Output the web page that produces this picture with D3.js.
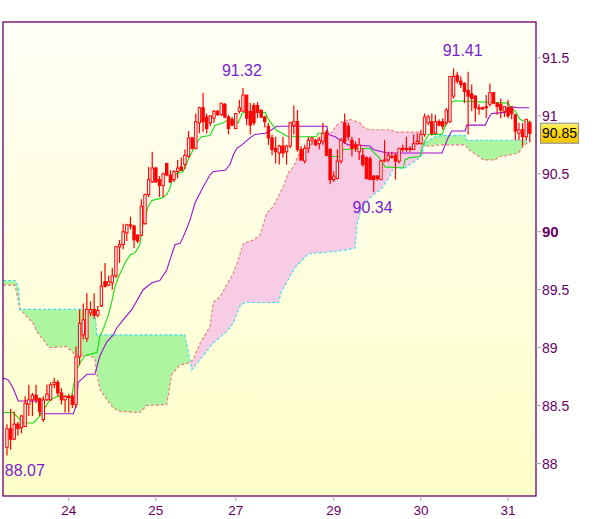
<!DOCTYPE html>
<html><head><meta charset="utf-8">
<script src="https://cdn.jsdelivr.net/npm/d3@7"></script>
<style>body{margin:0;background:#fff}svg{display:block}</style>
</head><body><svg id="c" width="600" height="519"></svg>
<script>
// hourly candles (index 0..144)
const opens=[88.14,88.30,88.21,88.34,88.31,88.32,88.51,88.55,88.59,88.56,88.38,88.55,88.55,88.68,88.70,88.61,88.55,88.58,88.58,88.51,
88.92,89.11,89.08,89.30,89.33,89.28,89.36,89.57,89.54,89.56,89.62,89.87,89.89,89.99,90.06,90.05,89.97,89.97,90.07,90.32,
90.43,90.55,90.45,90.40,90.59,90.49,90.45,90.52,90.56,90.58,90.65,90.81,90.72,90.94,91.07,90.99,90.94,90.98,91.04,91.01,
91.10,90.99,90.97,90.89,91.04,91.04,91.18,91.04,91.09,91.09,91.05,90.99,90.91,90.81,90.72,90.68,90.74,90.69,90.74,90.92,
90.95,90.71,90.61,90.72,90.79,90.79,90.76,90.78,90.86,90.71,90.45,90.46,90.61,90.94,90.91,90.79,90.75,90.69,90.66,90.64,
90.63,90.48,90.48,90.45,90.61,90.62,90.65,90.66,90.61,90.72,90.71,90.72,90.71,90.76,90.76,90.84,90.94,90.95,90.85,90.95,
90.95,90.94,90.95,91.17,91.35,91.30,91.28,91.22,91.19,91.17,91.07,91.06,91.08,91.10,91.20,91.11,91.10,91.04,91.07,91.07,
91.01,90.85,90.88,90.82,90.94];
const highs=[88.34,88.47,88.45,88.36,88.42,88.58,88.68,88.61,88.68,88.57,88.58,88.68,88.70,88.74,88.72,88.65,88.59,88.60,88.60,89.01,
89.33,89.38,89.47,89.40,89.47,89.36,89.66,89.73,89.62,89.69,89.88,89.93,90.07,90.07,90.13,90.06,89.98,90.28,90.33,90.56,
90.69,90.56,90.48,90.51,90.59,90.53,90.53,90.62,90.64,90.71,90.87,90.82,91.02,91.08,91.20,91.02,91.00,91.05,91.05,91.11,
91.11,91.01,90.99,91.02,91.14,91.24,91.18,91.11,91.11,91.12,91.05,91.00,90.94,90.84,90.82,90.75,90.82,90.75,90.95,91.09,
91.05,90.74,90.75,90.82,90.82,90.80,90.82,90.94,90.88,90.72,90.52,90.71,90.81,91.02,90.94,90.82,90.78,90.81,90.72,90.65,
90.65,90.49,90.49,90.62,90.79,90.69,90.69,90.68,90.72,90.75,90.82,90.74,90.84,90.85,90.88,91.02,91.01,91.02,91.01,90.97,
90.98,91.07,91.34,91.41,91.38,91.34,91.29,91.38,91.27,91.18,91.10,91.08,91.18,91.28,91.20,91.12,91.15,91.08,91.14,91.08,
91.01,90.94,90.94,90.97,90.96];
const lows=[88.07,88.12,88.20,88.24,88.26,88.32,88.41,88.41,88.52,88.41,88.36,88.54,88.54,88.65,88.58,88.51,88.44,88.44,88.48,88.48,
88.85,89.07,89.05,89.27,89.25,89.26,89.35,89.52,89.53,89.50,89.60,89.73,89.85,89.92,90.02,89.86,89.90,89.96,90.06,90.30,
90.42,90.42,90.30,90.30,90.48,90.42,90.43,90.46,90.53,90.54,90.64,90.71,90.71,90.85,90.86,90.85,90.91,90.94,91.00,91.00,
90.98,90.84,90.91,90.89,91.02,91.04,90.92,90.84,90.92,90.98,90.98,90.90,90.75,90.66,90.59,90.58,90.64,90.58,90.72,90.84,
90.69,90.61,90.59,90.68,90.75,90.74,90.71,90.75,90.65,90.41,90.43,90.45,90.59,90.76,90.79,90.65,90.69,90.62,90.56,90.45,
90.45,90.34,90.44,90.45,90.60,90.60,90.63,90.45,90.59,90.69,90.69,90.69,90.71,90.75,90.75,90.82,90.92,90.83,90.84,90.91,
90.88,90.92,90.94,91.15,91.28,91.24,91.11,90.84,91.04,90.95,91.01,91.05,90.98,91.08,91.10,91.01,90.98,90.99,90.98,90.97,
90.79,90.79,90.74,90.79,90.77];
const closes=[88.30,88.21,88.34,88.30,88.41,88.52,88.55,88.59,88.55,88.45,88.55,88.60,88.68,88.70,88.61,88.55,88.58,88.57,88.51,88.92,
89.21,89.24,89.33,89.33,89.28,89.32,89.53,89.53,89.57,89.62,89.87,89.89,90.00,90.06,90.05,89.93,89.92,90.22,90.32,90.45,
90.55,90.43,90.40,90.50,90.49,90.43,90.52,90.55,90.53,90.66,90.81,90.72,90.95,91.07,90.95,90.89,91.00,91.04,91.01,91.11,
90.99,90.89,90.92,91.02,91.07,91.18,90.98,90.92,90.94,91.03,90.99,90.95,90.81,90.71,90.69,90.74,90.68,90.74,90.94,90.95,
90.71,90.62,90.72,90.79,90.81,90.75,90.79,90.85,90.66,90.45,90.48,90.61,90.79,90.78,90.82,90.72,90.72,90.75,90.58,90.46,
90.45,90.45,90.46,90.61,90.62,90.66,90.65,90.61,90.72,90.71,90.72,90.71,90.76,90.78,90.84,90.99,90.99,90.85,90.95,90.92,
90.91,91.05,91.34,91.34,91.30,91.27,91.21,91.17,91.15,91.07,91.06,91.07,91.07,91.20,91.11,91.08,91.05,91.08,91.00,91.02,
90.87,90.88,90.82,90.97,90.85];

// indicator lines read as [bar index, price] breakpoints
const tenkan=[[-1.1,88.44],[1.7,88.44],[4.5,88.35],[7.3,88.35],[9.1,88.41],[11.8,88.55],[14.1,88.58],[17.8,88.58],[19.2,88.81],[20.1,88.87],
[21.5,88.93],[24.8,88.96],[25.6,89.10],[26.5,89.16],[27.8,89.27],[28.8,89.39],[29.8,89.53],[30.7,89.61],[31.6,89.67],[32.5,89.73],
[33.9,89.80],[35.3,89.82],[36.6,89.89],[37.1,90.02],[37.8,90.10],[38.9,90.22],[39.9,90.27],[42.6,90.29],[44,90.32],[44.9,90.38],
[45.5,90.45],[46.7,90.50],[48.5,90.52],[49.9,90.62],[51.3,90.71],[52.7,90.79],[53.6,90.82],[55.9,90.83],[57.3,90.92],[59.6,90.94],
[61.4,90.98],[62.3,90.95],[63.7,90.94],[64.7,91.02],[65.3,91.03],[71.1,91.03],[72,90.97],[73.4,90.91],[74,90.88],[77.5,90.82],
[85.3,90.82],[85.7,90.85],[87.1,90.85],[88.1,90.74],[88.5,90.65],[91.7,90.65],[92.6,90.71],[99.9,90.72],[102.8,90.63],[104.1,90.56],
[109.2,90.55],[109.6,90.62],[111,90.64],[113.8,90.65],[114.2,90.72],[115.2,90.79],[116.1,90.84],[119.8,90.84],[120.7,90.91],[121.1,90.98],
[121.8,91.07],[122.5,91.12],[123.4,91.13],[138.1,91.11],[138.6,91.08],[140,91.04],[141.3,90.97],[142.7,90.95],[143.8,90.95]];
const kijun=[[-1.1,88.74],[0.4,88.72],[1.7,88.65],[3.1,88.54],[8.6,88.54],[9.1,88.43],[18.3,88.43],[19.2,88.52],[19.6,88.70],[22,88.77],
[24.2,88.77],[25.6,88.93],[27.5,89.05],[29.3,89.11],[30.2,89.17],[32,89.24],[34.4,89.33],[37.5,89.50],[39.9,89.56],[42.1,89.58],
[44,89.67],[44.9,89.76],[46.3,89.89],[47.7,89.90],[49,89.99],[50.4,90.10],[51.8,90.25],[54.1,90.39],[55.9,90.49],[56.8,90.52],
[60.1,90.53],[61.4,90.58],[62.3,90.66],[63.3,90.72],[64.7,90.75],[66.9,90.81],[68.3,90.84],[71.1,90.85],[72.9,90.88],[74.3,90.91],
[88.1,90.91],[88.5,90.84],[90.4,90.82],[92.2,90.78],[94,90.75],[100,90.74],[100.9,90.71],[104.6,90.68],[119.8,90.68],[120.7,90.75],
[121.6,90.82],[122.5,90.87],[126.2,90.87],[126.6,90.92],[131.7,90.92],[132.6,90.98],[133.5,91.02],[137.2,91.03],[138.6,91.08],[140.9,91.07],
[143.8,91.07]];
const spanA=[[-1.1,89.58],[2.2,89.58],[3.1,89.53],[3.6,89.33],[24.2,89.33],[24.7,89.11],[49,89.11],[50.9,88.81],[53.2,88.90],[56.8,89.04],
[60.5,89.14],[62.3,89.21],[64.2,89.36],[65.6,89.39],[74.7,89.39],[75.7,89.49],[79.3,89.69],[83,89.81],[90.4,89.83],[94.5,89.85],
[95.9,89.86],[96.3,90.05],[97.2,90.16],[98.6,90.25],[100.9,90.32],[102.8,90.36],[105.5,90.48],[106.4,90.55],[109.6,90.55],[112.9,90.62],
[114.2,90.66],[115.2,90.77],[117.9,90.82],[119.8,90.83],[126.2,90.83],[126.6,90.79],[142.7,90.79],[143.6,90.76]];
const spanB=[[-1.1,89.54],[2.2,89.54],[3.6,89.33],[7.2,89.21],[8.2,89.14],[10.9,89.03],[11.8,89.00],[16.4,89.01],[17.8,88.97],[18.7,88.94],
[22.9,88.93],[24.2,88.90],[24.7,88.78],[25.6,88.64],[27.5,88.55],[29.3,88.48],[31.1,88.45],[36.6,88.44],[38.5,88.50],[44,88.51],
[45.4,88.77],[47.7,88.85],[50.4,88.87],[51.3,88.90],[53.2,89.04],[55.9,89.18],[56.8,89.39],[58.7,89.44],[60.5,89.54],[62.3,89.64],
[63.7,89.76],[65.1,89.90],[67.9,89.93],[69.7,89.97],[71.5,90.16],[73.4,90.22],[76.1,90.39],[77.5,90.51],[78.9,90.56],[80.2,90.66],
[82.1,90.71],[83.9,90.76],[85.8,90.81],[88.1,90.84],[89.5,90.86],[90.8,90.92],[92.2,90.95],[94.5,90.97],[97.2,90.94],[98.6,90.89],
[100.9,90.88],[105.5,90.88],[107.4,90.86],[113.8,90.86],[115.2,90.74],[117,90.74],[118.8,90.75],[126.2,90.75],[127.1,90.71],[128.5,90.68],
[130,90.65],[131.2,90.62],[134.4,90.62],[135.8,90.65],[138.1,90.66],[140.9,90.68],[142.4,90.75],[143.8,90.77]];

const xTickIndex=[17,41,63,90,114,138];
const xTickLabels=["24","25","27","29","30","31"];
const yTicks=[88,88.5,89,89.5,90,90.5,91,91.5];
const yTickLabels=["88","88.5","89","89.5","90","90.5","91","91.5"];
const lastPrice=90.85;
const annText=["91.32","91.41","90.34","88.07"];
const annIndex=[64.7,125.5,100.7,-0.6];
const annPrice=[91.24,91.41,90.34,88.07];
const annSide=["above","above","below","belowLeft"];

const L=3,T=22,R=536,B=496;
const svg=d3.select("#c");
const x=d3.scaleLinear().domain([-1.1,145.7]).range([L,R]);
const y=d3.scaleLinear().domain([87.72,91.81]).range([B,T]);
const defs=svg.append("defs");
const bg=defs.append("linearGradient").attr("id","bg").attr("x1",0).attr("y1",0).attr("x2",0).attr("y2",1);
bg.append("stop").attr("offset","0%").attr("stop-color","#fffff6");
bg.append("stop").attr("offset","100%").attr("stop-color","#ffffc9");
const yb=defs.append("linearGradient").attr("id","yb").attr("x1",0).attr("y1",0).attr("x2",0).attr("y2",1);
yb.append("stop").attr("offset","0%").attr("stop-color","#fff27a");
yb.append("stop").attr("offset","45%").attr("stop-color","#ffd800");
yb.append("stop").attr("offset","100%").attr("stop-color","#f5c400");
defs.append("clipPath").attr("id","plot").append("rect").attr("x",L).attr("y",T).attr("width",R-L).attr("height",B-T);

const pt=d=>[x(d[0]),y(d[1])];
const aPts=spanA.map(pt), bPts=spanB.map(pt);
const poly="M"+aPts.map(p=>p.join(",")).join("L")+"L"+bPts.slice().reverse().map(p=>p.join(",")).join("L")+"Z";
const bLine=bPts.map(p=>p.join(",")).join("L");
defs.append("clipPath").attr("id","aboveB").append("path")
  .attr("d","M"+bPts[0][0]+","+T+"L"+bLine+"L"+bPts[bPts.length-1][0]+","+T+"Z");
defs.append("clipPath").attr("id","belowB").append("path")
  .attr("d","M"+bPts[0][0]+","+B+"L"+bLine+"L"+bPts[bPts.length-1][0]+","+B+"Z");

svg.append("rect").attr("x",L).attr("y",T).attr("width",R-L).attr("height",B-T).attr("fill","url(#bg)");
const g=svg.append("g").attr("clip-path","url(#plot)");
g.append("g").attr("clip-path","url(#aboveB)").append("path").attr("d",poly).attr("fill","#adf59e");
g.append("g").attr("clip-path","url(#belowB)").append("path").attr("d",poly).attr("fill","#f9cce6");

const line=d3.line().x(d=>x(d[0])).y(d=>y(d[1]));
g.append("path").attr("d",line(spanB)).attr("fill","none").attr("stroke","#f07878").attr("stroke-width",1.1).attr("stroke-dasharray","3,2");
g.append("path").attr("d",line(spanA)).attr("fill","none").attr("stroke","#3ddcf0").attr("stroke-width",1.1).attr("stroke-dasharray","3,2");
g.append("path").attr("d",line(kijun)).attr("fill","none").attr("stroke","#9a10d0").attr("stroke-width",1.1);
g.append("path").attr("d",line(tenkan)).attr("fill","none").attr("stroke","#10e010").attr("stroke-width",1.1);

const idx=d3.range(opens.length);
const cg=g.append("g");
cg.selectAll("line.w").data(idx).join("line")
  .attr("x1",i=>x(i)).attr("x2",i=>x(i)).attr("y1",i=>y(highs[i])).attr("y2",i=>y(lows[i]))
  .attr("stroke","#f00").attr("stroke-width",1.2);
cg.selectAll("rect.b").data(idx).join("rect")
  .attr("x",i=>x(i)-1.2).attr("width",2.4)
  .attr("y",i=>y(Math.max(opens[i],closes[i])))
  .attr("height",i=>Math.max(1,Math.abs(y(opens[i])-y(closes[i]))))
  .attr("fill",i=>closes[i]>=opens[i]?"#fff":"#f00")
  .attr("stroke","#f00").attr("stroke-width",1);

svg.append("rect").attr("x",L).attr("y",T).attr("width",R-L).attr("height",B-T)
  .attr("fill","none").attr("stroke","#660066").attr("stroke-width",1.3);

// y axis
yTicks.forEach((v,k)=>{
  svg.append("line").attr("x1",R).attr("x2",R+5).attr("y1",y(v)).attr("y2",y(v)).attr("stroke","#9aa5b5");
  svg.append("text").attr("x",R+6).attr("y",y(v)).attr("dy","0.36em")
    .attr("font-family","Liberation Sans, Arial, sans-serif")
    .attr("font-size",v===90?15:14).attr("font-weight",v===90?"bold":"normal")
    .attr("fill","#660066").text(yTickLabels[k]);
});
// x axis
xTickIndex.forEach((i,k)=>{
  svg.append("line").attr("x1",x(i)).attr("x2",x(i)).attr("y1",B).attr("y2",B+5).attr("stroke","#9aa5b5");
  svg.append("text").attr("x",x(i)).attr("y",B+19).attr("text-anchor","middle")
    .attr("font-family","Liberation Sans, Arial, sans-serif").attr("font-size",13.5)
    .attr("fill","#660066").text(xTickLabels[k]);
});
// last price box
const ly=y(lastPrice);
svg.append("rect").attr("x",R+4.5).attr("y",ly-10).attr("width",38).attr("height",20)
  .attr("fill","url(#yb)").attr("stroke","#9a9a9a").attr("stroke-width",1.2);
svg.append("text").attr("x",R+23.5).attr("y",ly).attr("dy","0.36em").attr("text-anchor","middle")
  .attr("font-family","Liberation Sans, Arial, sans-serif").attr("font-size",14).attr("fill","#000").text(lastPrice.toFixed(2));
// annotations
annText.forEach((t,k)=>{
  const side=annSide[k];
  const ty=side==="above"?y(annPrice[k])-12:y(annPrice[k])+21;
  svg.append("text").attr("x",x(annIndex[k])).attr("y",ty)
    .attr("text-anchor",side==="belowLeft"?"start":"middle")
    .attr("font-family","Liberation Sans, Arial, sans-serif").attr("font-size",16)
    .attr("fill","#7a22cc").text(t);
});
</script></body></html>
